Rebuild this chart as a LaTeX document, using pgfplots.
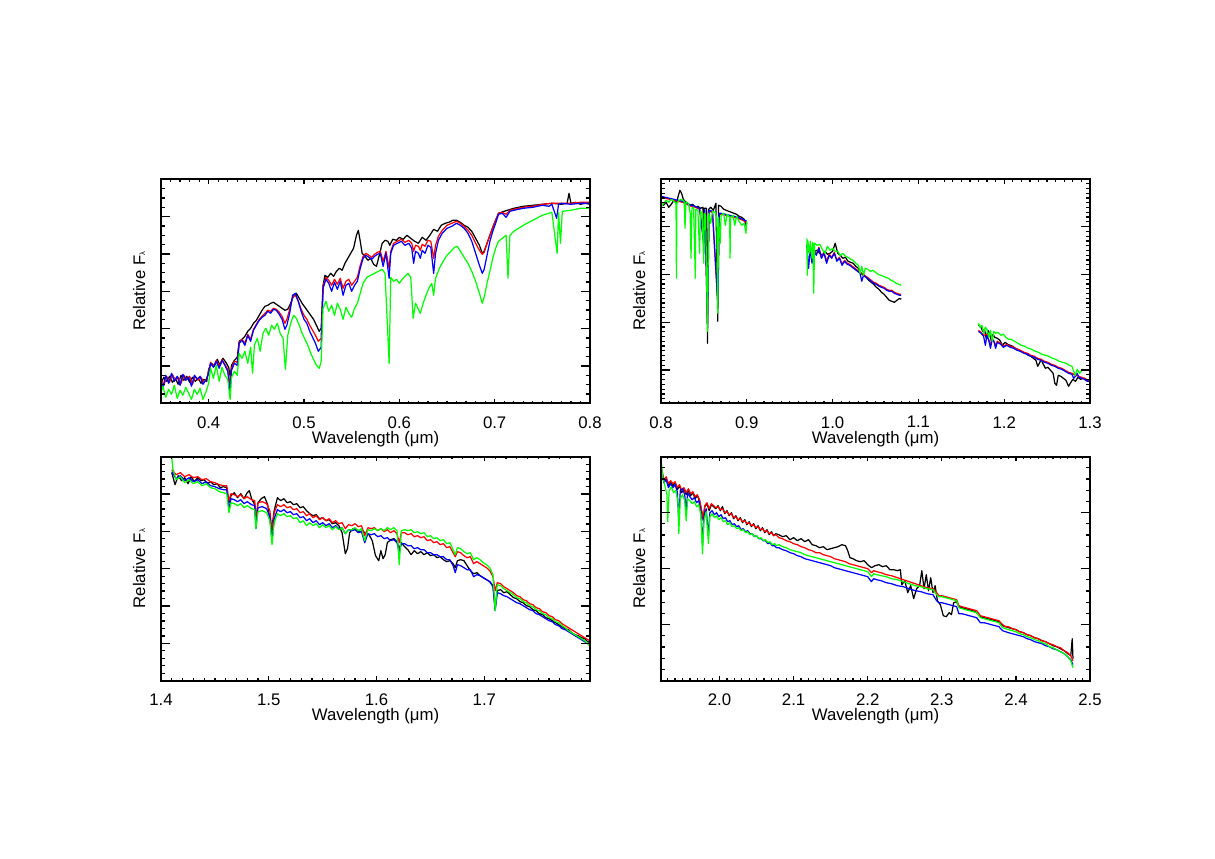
\documentclass[border=0pt]{standalone}
\usepackage{fontspec}
\setmainfont{Liberation Sans}
\usepackage{pgfplots}
\pgfplotsset{compat=1.18}

% y values: pixels above the bottom of each box (arbitrary flux units)
\pgfplotsset{
  spec/.style={
    scale only axis, width=278.85pt, height=145.6pt, anchor=south west,
    ymin=0, ymax=224, axis on top,
    axis line style={line width=1.1pt},
    tick align=inside, tick pos=both,
    every tick/.append style={black, line width=0.8pt},
    xtick style={/pgfplots/major tick length=2.8pt, /pgfplots/minor tick length=1.6pt},
    ytick style={/pgfplots/major tick length=5.6pt, /pgfplots/minor tick length=2.9pt},
    yticklabels={},
    xticklabel style={font=\fontsize{10.9}{12}\selectfont, anchor=north, inner sep=0pt, yshift=-8.3pt,
      /pgf/number format/.cd, fixed, fixed zerofill, precision=1, assume math mode=true},
    xlabel={Wavelength (μm)},
    ylabel={Relative F{\fontsize{5}{6}\selectfont λ}},
    label style={font=\fontsize{10.9}{12}\selectfont},
    xlabel style={at={(axis description cs:0.5,-0.178)}, anchor=base},
    ylabel style={at={(axis description cs:-0.0373,0.5)}, anchor=base},
    unbounded coords=jump,
    every axis plot/.append style={line width=0.8pt, line join=round},
  },
}

\begin{document}
\begin{tikzpicture}
\useasboundingbox (0,0) rectangle (789.75pt,558.35pt);

% ---------------- top left: 0.35-0.8 um
\begin{axis}[spec, at={(104.65pt,296.2pt)},
  xmin=0.35, xmax=0.8, xtick={0.4,0.5,0.6,0.7,0.8}, minor xtick={0.35,0.36,...,0.8},
  ytick={37.333,74.667,112,149.333,186.667}, minor ytick={9.333,18.667,...,224}]
\addplot[black] coordinates {(0.350,20) (0.353,26) (0.356,22) (0.359,27) (0.362,21) (0.365,25) (0.368,19) (0.371,28) (0.374,23) (0.377,27) (0.380,21) (0.383,26) (0.386,22) (0.389,25) (0.392,20) (0.395,24) (0.398,22) (0.400,34) (0.403,40) (0.406,37) (0.409,44) (0.412,38) (0.415,45) (0.418,41) (0.421,36) (0.4225,27) (0.424,38) (0.427,43) (0.430,46) (0.432,62) (0.435,64) (0.438,67) (0.441,72) (0.444,75) (0.447,80) (0.450,83) (0.453,88) (0.456,93) (0.459,97) (0.462,98) (0.465,100) (0.468,101) (0.471,99) (0.474,97) (0.477,95) (0.480,93) (0.483,94) (0.486,100) (0.489,107) (0.492,110) (0.495,105) (0.498,100) (0.501,96) (0.504,92) (0.507,88) (0.510,84) (0.513,78) (0.516,72) (0.518,75) (0.520,118) (0.522,128) (0.525,126) (0.528,130) (0.531,127) (0.534,132) (0.537,135) (0.540,133) (0.543,140) (0.546,145) (0.549,150) (0.552,155) (0.555,168) (0.557,173) (0.559,162) (0.561,150) (0.564,147) (0.567,143) (0.570,145) (0.573,139) (0.576,137) (0.579,148) (0.582,160) (0.585,163) (0.588,162) (0.590,158) (0.593,164) (0.597,163) (0.600,166) (0.604,164) (0.608,168) (0.612,165) (0.616,162) (0.620,160) (0.624,166) (0.628,163) (0.632,168) (0.636,174) (0.640,172) (0.644,178) (0.648,180) (0.652,181) (0.656,183) (0.660,183) (0.664,181) (0.668,178) (0.672,176) (0.676,172) (0.680,165) (0.684,158) (0.687,150) (0.689,152) (0.692,160) (0.695,168) (0.698,176) (0.701,183) (0.704,190) (0.710,192) (0.720,195) (0.730,197) (0.740,198) (0.750,199) (0.760,200) (0.770,199) (0.776,200) (0.778,210) (0.780,200) (0.785,201) (0.790,199) (0.795,200) (0.800,199)};
\addplot[red] coordinates {(0.350,24) (0.353,18) (0.356,27) (0.359,21) (0.362,29) (0.365,23) (0.368,26) (0.371,20) (0.374,28) (0.377,24) (0.380,27) (0.383,19) (0.386,27) (0.389,23) (0.392,26) (0.395,21) (0.398,24) (0.400,32) (0.402,41) (0.405,37) (0.408,43) (0.411,37) (0.414,44) (0.417,39) (0.420,34) (0.4225,18) (0.424,35) (0.427,42) (0.430,41) (0.432,61) (0.435,64) (0.438,60) (0.441,69) (0.444,64) (0.447,74) (0.450,79) (0.453,84) (0.456,87) (0.459,90) (0.462,93) (0.465,92) (0.468,95) (0.471,94) (0.474,91) (0.477,87) (0.480,80) (0.482,84) (0.485,94) (0.488,106) (0.491,108) (0.494,102) (0.497,94) (0.500,88) (0.503,84) (0.506,78) (0.509,73) (0.512,68) (0.515,62) (0.518,65) (0.520,117) (0.523,126) (0.526,123) (0.529,118) (0.532,124) (0.535,119) (0.538,125) (0.541,115) (0.544,122) (0.547,124) (0.550,118) (0.553,122) (0.556,126) (0.559,138) (0.562,147) (0.565,150) (0.568,148) (0.571,146) (0.574,149) (0.577,151) (0.580,152) (0.583,142) (0.586,152) (0.5893,135) (0.591,152) (0.594,160) (0.598,162) (0.602,164) (0.606,161) (0.610,163) (0.613,160) (0.615,152) (0.617,158) (0.620,157) (0.622,153) (0.624,159) (0.627,157) (0.630,163) (0.633,162) (0.636,145) (0.638,158) (0.641,167) (0.645,173) (0.650,178) (0.655,180) (0.660,182) (0.664,180) (0.668,177) (0.672,173) (0.676,168) (0.680,160) (0.684,153) (0.687,149) (0.689,151) (0.692,160) (0.695,168) (0.698,176) (0.701,183) (0.704,190) (0.708,191) (0.712,189) (0.716,193) (0.720,194) (0.730,196) (0.740,197) (0.750,199) (0.760,200) (0.770,200) (0.780,200) (0.790,201) (0.800,201)};
\addplot[blue] coordinates {(0.350,22) (0.352,16) (0.355,28) (0.358,20) (0.361,30) (0.364,22) (0.367,27) (0.370,18) (0.373,29) (0.376,23) (0.379,26) (0.382,17) (0.385,28) (0.388,24) (0.391,27) (0.394,19) (0.397,23) (0.400,30) (0.402,40) (0.405,36) (0.408,42) (0.411,35) (0.414,43) (0.417,38) (0.420,32) (0.4225,12) (0.424,33) (0.427,40) (0.430,38) (0.432,60) (0.435,63) (0.438,58) (0.441,68) (0.444,62) (0.447,73) (0.450,78) (0.453,83) (0.456,86) (0.459,88) (0.462,92) (0.465,90) (0.468,94) (0.471,93) (0.474,89) (0.477,84) (0.480,74) (0.482,78) (0.485,90) (0.488,108) (0.491,110) (0.494,102) (0.497,92) (0.500,84) (0.503,80) (0.506,72) (0.509,66) (0.512,60) (0.515,52) (0.518,56) (0.520,115) (0.523,124) (0.526,120) (0.529,112) (0.532,121) (0.535,114) (0.538,122) (0.541,108) (0.544,118) (0.547,120) (0.550,112) (0.553,118) (0.556,122) (0.559,135) (0.562,145) (0.565,148) (0.568,146) (0.571,144) (0.574,147) (0.577,149) (0.580,150) (0.583,137) (0.586,150) (0.5893,125) (0.591,150) (0.594,158) (0.598,160) (0.602,162) (0.606,158) (0.610,160) (0.613,155) (0.615,140) (0.617,152) (0.620,150) (0.622,145) (0.624,153) (0.627,150) (0.630,158) (0.633,156) (0.636,130) (0.638,150) (0.641,163) (0.645,170) (0.650,175) (0.655,177) (0.660,180) (0.664,178) (0.668,175) (0.672,170) (0.676,162) (0.680,150) (0.684,138) (0.687,130) (0.689,134) (0.692,148) (0.695,162) (0.698,172) (0.701,180) (0.704,189) (0.708,190) (0.712,186) (0.716,192) (0.720,193) (0.730,195) (0.740,196) (0.750,198) (0.757,197) (0.760,199) (0.765,185) (0.767,199) (0.770,200) (0.780,199) (0.790,200) (0.800,200)};
\addplot[green] coordinates {(0.350,10) (0.352,17) (0.355,6) (0.358,14) (0.361,9) (0.364,18) (0.367,5) (0.370,13) (0.373,8) (0.376,16) (0.379,10) (0.382,4) (0.385,14) (0.388,9) (0.391,15) (0.394,4) (0.397,11) (0.400,20) (0.402,35) (0.405,25) (0.408,38) (0.411,22) (0.414,36) (0.417,28) (0.420,24) (0.4225,4) (0.424,26) (0.427,32) (0.430,28) (0.432,50) (0.435,45) (0.438,52) (0.441,40) (0.444,56) (0.446,30) (0.448,58) (0.451,65) (0.454,52) (0.457,70) (0.460,75) (0.463,68) (0.466,78) (0.469,74) (0.472,80) (0.475,70) (0.478,65) (0.4805,34) (0.483,68) (0.486,80) (0.489,88) (0.492,85) (0.495,78) (0.498,70) (0.501,64) (0.504,58) (0.507,50) (0.510,44) (0.513,38) (0.516,35) (0.518,42) (0.520,95) (0.523,102) (0.526,92) (0.529,98) (0.532,88) (0.535,100) (0.538,94) (0.541,84) (0.544,96) (0.547,90) (0.550,86) (0.553,95) (0.556,100) (0.559,110) (0.562,120) (0.566,126) (0.570,128) (0.574,130) (0.578,132) (0.582,134) (0.585,130) (0.5893,40) (0.591,126) (0.594,122) (0.597,124) (0.600,120) (0.603,124) (0.606,127) (0.609,130) (0.612,126) (0.6145,85) (0.617,100) (0.620,94) (0.622,90) (0.625,100) (0.628,108) (0.631,115) (0.634,120) (0.636,108) (0.638,125) (0.642,135) (0.646,142) (0.650,148) (0.654,152) (0.658,156) (0.661,157) (0.664,152) (0.668,146) (0.672,140) (0.676,132) (0.680,122) (0.684,110) (0.687,100) (0.689,106) (0.692,120) (0.695,132) (0.698,145) (0.701,155) (0.704,162) (0.708,165) (0.712,168) (0.714,125) (0.716,168) (0.720,172) (0.730,178) (0.740,183) (0.750,188) (0.760,191) (0.7655,150) (0.767,191) (0.769,160) (0.771,192) (0.780,193) (0.790,195) (0.800,195)};
\end{axis}

% ---------------- top right: 0.8-1.3 um
\begin{axis}[spec, at={(429.65pt,296.2pt)},
  xmin=0.8, xmax=1.3, xtick={0.8,0.9,1.0,1.1,1.2,1.3}, minor xtick={0.81,0.82,...,1.3},
  ytick={33.3,81.1,128.9,176.7}, minor ytick={4.62,9.4,...,224}]
\addplot[black] coordinates {(0.800,200) (0.803,198) (0.806,201) (0.809,196) (0.812,199) (0.815,203) (0.818,200) (0.820,207) (0.822,213) (0.824,210) (0.826,204) (0.828,202) (0.831,200) (0.834,198) (0.837,199) (0.840,196) (0.843,197) (0.846,195) (0.849,196) (0.8498,150) (0.8505,195) (0.853,195) (0.8542,60) (0.8555,194) (0.858,196) (0.861,193) (0.864,200) (0.8662,82) (0.867,198) (0.870,197) (0.873,194) (0.876,193) (0.879,192) (0.882,191) (0.885,190) (0.888,189) (0.891,187) (0.894,186) (0.897,184) (0.899,178) (0.900,180) (0.935,nan)
 (0.970,158) (0.973,150) (0.976,156) (0.979,152) (0.982,153) (0.985,150) (0.988,148) (0.991,152) (0.994,149) (0.997,150) (1.000,152) (1.003,160) (1.006,150) (1.009,148) (1.012,145) (1.015,146) (1.018,142) (1.021,141) (1.024,140) (1.027,137) (1.030,135) (1.033,130) (1.036,128) (1.039,126) (1.042,123) (1.045,121) (1.048,119) (1.051,116) (1.054,114) (1.057,111) (1.060,109) (1.063,106) (1.066,103) (1.069,102) (1.072,101) (1.075,103) (1.078,105) (1.080,104) (1.12,nan)
 (1.170,78) (1.173,76) (1.175,72) (1.177,74) (1.179,65) (1.181,73) (1.183,70) (1.185,62) (1.187,69) (1.189,66) (1.192,65) (1.195,63) (1.198,58) (1.201,61) (1.204,59) (1.207,58) (1.210,57) (1.213,55) (1.216,54) (1.219,52) (1.222,51) (1.225,50) (1.228,48) (1.231,47) (1.234,45) (1.237,43) (1.239,37) (1.241,40) (1.243,44) (1.245,40) (1.248,35) (1.251,36) (1.254,33) (1.257,30) (1.259,20) (1.261,18) (1.263,28) (1.266,27) (1.269,25) (1.272,23) (1.275,17) (1.277,20) (1.280,24) (1.283,22) (1.286,26) (1.289,24) (1.292,25) (1.295,23) (1.298,22) (1.300,22)};
\addplot[red] coordinates {(0.800,206) (0.805,205) (0.810,204) (0.815,203) (0.820,202) (0.825,201) (0.830,199) (0.835,197) (0.840,196) (0.845,194) (0.8498,160) (0.851,193) (0.8542,80) (0.856,192) (0.860,191) (0.8662,100) (0.868,189) (0.870,189) (0.875,188) (0.880,187) (0.885,186) (0.890,185) (0.895,183) (0.900,181) (0.935,nan)
 (0.970,159) (0.974,156) (0.978,153) (0.981,149) (0.984,156) (0.987,146) (0.990,151) (0.993,142) (0.996,149) (0.999,146) (1.002,151) (1.005,143) (1.008,146) (1.011,139) (1.014,143) (1.017,140) (1.020,139) (1.023,137) (1.026,135) (1.029,133) (1.032,131) (1.036,129) (1.039,127) (1.042,125) (1.045,123) (1.048,121) (1.051,120) (1.054,118) (1.057,117) (1.060,116) (1.063,114) (1.066,113) (1.069,113) (1.072,111) (1.075,110) (1.078,109) (1.080,109) (1.12,nan)
 (1.170,73) (1.173,71) (1.176,68) (1.180,69) (1.184,58) (1.186,65) (1.190,58) (1.192,62) (1.196,60) (1.199,57) (1.203,59) (1.207,57) (1.211,56) (1.215,54) (1.219,53) (1.223,51) (1.227,50) (1.231,48) (1.235,47) (1.239,45) (1.243,44) (1.247,42) (1.251,41) (1.255,39) (1.259,38) (1.263,36) (1.267,35) (1.271,33) (1.275,31) (1.279,30) (1.283,28) (1.287,27) (1.290,26) (1.294,25) (1.297,23) (1.300,23)};
\addplot[blue] coordinates {(0.800,207) (0.805,206) (0.810,205) (0.815,204) (0.820,203) (0.825,202) (0.830,200) (0.835,198) (0.840,197) (0.845,195) (0.8498,160) (0.851,194) (0.8542,80) (0.856,193) (0.860,192) (0.8662,100) (0.868,190) (0.870,190) (0.875,189) (0.880,188) (0.885,187) (0.890,186) (0.895,184) (0.900,182) (0.935,nan)
 (0.970,158) (0.972,135) (0.974,155) (0.976,140) (0.978,152) (0.981,148) (0.984,155) (0.987,145) (0.990,150) (0.993,140) (0.996,148) (0.999,145) (1.002,150) (1.005,142) (1.008,145) (1.011,138) (1.014,142) (1.017,139) (1.020,138) (1.023,136) (1.026,134) (1.029,132) (1.032,130) (1.034,122) (1.036,128) (1.039,126) (1.042,124) (1.045,122) (1.048,120) (1.051,119) (1.054,117) (1.057,116) (1.060,115) (1.063,113) (1.066,112) (1.069,112) (1.072,110) (1.075,109) (1.078,108) (1.080,108) (1.12,nan)
 (1.170,72) (1.173,70) (1.176,67) (1.178,58) (1.180,68) (1.182,63) (1.184,55) (1.186,64) (1.188,62) (1.190,55) (1.192,61) (1.196,59) (1.199,56) (1.203,58) (1.207,56) (1.211,55) (1.215,53) (1.219,52) (1.223,50) (1.227,49) (1.231,47) (1.235,46) (1.239,44) (1.243,43) (1.247,41) (1.251,40) (1.255,38) (1.259,37) (1.263,35) (1.267,34) (1.271,32) (1.275,30) (1.279,29) (1.281,25) (1.283,27) (1.285,30) (1.287,26) (1.290,25) (1.294,24) (1.297,22) (1.300,22)};
\addplot[green] coordinates {(0.800,196) (0.803,200) (0.806,203) (0.809,201) (0.812,204) (0.815,202) (0.8175,200) (0.818,125) (0.8185,200) (0.821,203) (0.824,204) (0.827,202) (0.828,175) (0.829,201) (0.832,200) (0.834,190) (0.835,145) (0.836,195) (0.838,196) (0.840,125) (0.8405,194) (0.843,193) (0.845,150) (0.846,192) (0.848,190) (0.8498,140) (0.8505,190) (0.852,188) (0.8542,72) (0.8555,190) (0.858,180) (0.860,192) (0.863,191) (0.865,185) (0.8662,90) (0.867,186) (0.869,160) (0.870,188) (0.873,190) (0.875,178) (0.877,189) (0.880,186) (0.8805,145) (0.881,186) (0.884,188) (0.886,178) (0.888,187) (0.891,182) (0.894,178) (0.897,180) (0.899,170) (0.900,182) (0.935,nan)
 (0.970,165) (0.9705,128) (0.971,163) (0.973,150) (0.974,162) (0.976,145) (0.977,161) (0.978,110) (0.979,160) (0.982,158) (0.985,159) (0.988,154) (0.991,150) (0.994,157) (0.997,153) (1.000,155) (1.003,152) (1.006,152) (1.009,148) (1.012,150) (1.015,147) (1.018,146) (1.021,144) (1.024,143) (1.027,140) (1.030,138) (1.032,130) (1.034,137) (1.036,128) (1.038,135) (1.041,134) (1.044,132) (1.047,133) (1.050,131) (1.053,129) (1.056,128) (1.059,127) (1.062,126) (1.065,125) (1.068,123) (1.071,122) (1.074,120) (1.077,119) (1.080,118) (1.12,nan)
 (1.170,80) (1.172,76) (1.174,78) (1.176,70) (1.178,76) (1.180,74) (1.182,66) (1.184,73) (1.186,62) (1.188,72) (1.190,70) (1.193,71) (1.196,68) (1.199,69) (1.202,66) (1.205,64) (1.208,64) (1.212,62) (1.216,60) (1.220,58) (1.224,57) (1.228,55) (1.232,54) (1.236,52) (1.240,51) (1.244,49) (1.248,48) (1.252,47) (1.256,45) (1.260,44) (1.264,42) (1.268,41) (1.272,40) (1.276,38) (1.279,37) (1.281,32) (1.283,28) (1.285,34) (1.288,30) (1.291,34) (1.294,33) (1.297,33) (1.300,33)};
\end{axis}

% ---------------- bottom left: 1.4-1.8 um
\begin{axis}[spec, at={(104.65pt,115.9pt)},
  xmin=1.4, xmax=1.798, xtick={1.4,1.5,1.6,1.7}, minor xtick={1.41,1.42,...,1.795},
  ytick={37.333,74.667,112,149.333,186.667}, minor ytick={7.4667,14.933,...,224}]
\addplot[black] coordinates {(1.410,208) (1.413,196) (1.416,205) (1.419,200) (1.422,203) (1.425,197) (1.428,204) (1.431,199) (1.434,203) (1.437,200) (1.440,201) (1.443,197) (1.446,199) (1.449,196) (1.452,197) (1.455,193) (1.458,194) (1.461,193) (1.463,178) (1.465,185) (1.468,188) (1.471,183) (1.474,187) (1.477,182) (1.480,188) (1.482,190) (1.484,182) (1.487,176) (1.488,160) (1.490,178) (1.493,182) (1.496,184) (1.499,176) (1.501,160) (1.503,154) (1.505,170) (1.508,183) (1.511,180) (1.514,182) (1.517,178) (1.520,179) (1.523,176) (1.526,177) (1.529,173) (1.532,174) (1.535,170) (1.538,167) (1.541,165) (1.544,166) (1.547,162) (1.550,163) (1.553,160) (1.556,161) (1.559,157) (1.562,158) (1.565,155) (1.568,148) (1.571,127) (1.573,132) (1.575,148) (1.578,152) (1.581,151) (1.584,149) (1.587,150) (1.590,147) (1.593,146) (1.596,140) (1.599,125) (1.602,120) (1.604,130) (1.606,122) (1.608,126) (1.610,138) (1.613,141) (1.616,142) (1.619,139) (1.621,132) (1.623,138) (1.626,134) (1.629,131) (1.632,126) (1.635,130) (1.638,127) (1.641,129) (1.644,126) (1.647,128) (1.650,125) (1.653,126) (1.656,123) (1.659,124) (1.662,121) (1.665,119) (1.668,120) (1.671,117) (1.673,113) (1.675,120) (1.678,121) (1.681,120) (1.684,115) (1.687,110) (1.690,107) (1.693,108) (1.696,105) (1.699,103) (1.702,101) (1.705,99) (1.708,95) (1.710,72) (1.712,90) (1.715,91) (1.718,88) (1.721,89) (1.724,86) (1.727,83) (1.730,82) (1.733,79) (1.736,78) (1.739,75) (1.742,74) (1.745,71) (1.748,70) (1.751,67) (1.754,66) (1.757,63) (1.760,62) (1.763,60) (1.766,58) (1.769,56) (1.772,54) (1.775,52) (1.778,51) (1.781,48) (1.784,46) (1.787,45) (1.790,43) (1.793,42) (1.796,39) (1.798,38)};
\addplot[red] coordinates {(1.410,211) (1.414,206) (1.418,208) (1.422,204) (1.426,206) (1.430,203) (1.434,204) (1.438,201) (1.442,202) (1.446,199) (1.450,198) (1.454,196) (1.458,195) (1.461,195) (1.463,180) (1.465,187) (1.468,186) (1.471,184) (1.474,186) (1.477,182) (1.480,184) (1.484,181) (1.487,180) (1.488,160) (1.490,178) (1.494,179) (1.498,177) (1.501,170) (1.503,150) (1.505,168) (1.508,176) (1.511,174) (1.514,176) (1.517,173) (1.520,174) (1.523,171) (1.526,172) (1.529,168) (1.532,169) (1.535,165) (1.538,167) (1.541,163) (1.544,165) (1.547,161) (1.550,163) (1.553,160) (1.556,162) (1.559,158) (1.562,160) (1.565,157) (1.568,158) (1.571,152) (1.574,156) (1.577,155) (1.580,157) (1.583,154) (1.586,155) (1.589,145) (1.592,153) (1.595,152) (1.598,153) (1.601,150) (1.604,152) (1.607,149) (1.610,151) (1.613,148) (1.616,150) (1.619,147) (1.621,138) (1.623,148) (1.626,148) (1.629,146) (1.632,147) (1.635,144) (1.638,145) (1.641,143) (1.644,144) (1.647,140) (1.650,141) (1.653,138) (1.656,139) (1.659,136) (1.662,137) (1.665,133) (1.668,134) (1.671,128) (1.673,124) (1.675,129) (1.678,128) (1.681,125) (1.684,123) (1.687,124) (1.690,117) (1.693,119) (1.696,117) (1.699,115) (1.702,113) (1.705,110) (1.708,104) (1.710,90) (1.712,98) (1.715,97) (1.718,94) (1.721,92) (1.724,90) (1.727,88) (1.730,85) (1.733,84) (1.736,81) (1.739,80) (1.742,77) (1.745,76) (1.748,73) (1.751,72) (1.754,69) (1.757,68) (1.760,65) (1.763,64) (1.766,61) (1.769,60) (1.772,57) (1.775,55) (1.778,53) (1.781,51) (1.784,49) (1.787,47) (1.790,45) (1.793,43) (1.796,41) (1.798,40)};
\addplot[blue] coordinates {(1.410,209) (1.414,202) (1.418,205) (1.422,200) (1.426,203) (1.430,199) (1.434,201) (1.438,197) (1.442,199) (1.446,195) (1.450,194) (1.454,192) (1.458,191) (1.461,191) (1.463,172) (1.465,182) (1.468,181) (1.471,179) (1.474,181) (1.477,177) (1.480,179) (1.484,176) (1.487,175) (1.488,152) (1.490,173) (1.494,174) (1.498,172) (1.501,164) (1.503,140) (1.505,162) (1.508,171) (1.511,169) (1.514,171) (1.517,168) (1.520,169) (1.523,166) (1.526,167) (1.529,163) (1.532,164) (1.535,160) (1.538,162) (1.541,158) (1.544,160) (1.547,156) (1.550,158) (1.553,155) (1.556,157) (1.559,153) (1.562,155) (1.565,152) (1.568,153) (1.571,147) (1.574,151) (1.577,150) (1.580,151) (1.583,148) (1.586,149) (1.589,138) (1.592,147) (1.595,146) (1.598,147) (1.601,144) (1.604,145) (1.607,142) (1.610,143) (1.613,140) (1.616,141) (1.619,138) (1.621,128) (1.623,137) (1.626,137) (1.629,135) (1.632,135) (1.635,132) (1.638,133) (1.641,131) (1.644,131) (1.647,128) (1.650,128) (1.653,126) (1.656,126) (1.659,124) (1.662,124) (1.665,121) (1.668,121) (1.671,115) (1.673,108) (1.675,116) (1.678,115) (1.681,113) (1.684,111) (1.687,111) (1.690,104) (1.693,106) (1.696,105) (1.699,103) (1.702,101) (1.705,99) (1.708,94) (1.710,70) (1.712,88) (1.715,87) (1.718,85) (1.721,84) (1.724,82) (1.727,80) (1.730,78) (1.733,77) (1.736,75) (1.739,73) (1.742,71) (1.745,70) (1.748,67) (1.751,66) (1.754,64) (1.757,62) (1.760,60) (1.763,59) (1.766,56) (1.769,55) (1.772,52) (1.775,51) (1.778,49) (1.781,47) (1.784,45) (1.787,43) (1.790,41) (1.793,39) (1.796,37) (1.798,35)};
\addplot[green] coordinates {(1.410,223) (1.411,212) (1.414,201) (1.418,204) (1.422,198) (1.426,201) (1.430,197) (1.434,199) (1.438,195) (1.442,197) (1.446,193) (1.450,192) (1.454,189) (1.458,188) (1.461,187) (1.463,168) (1.465,178) (1.468,177) (1.471,175) (1.474,177) (1.477,173) (1.480,175) (1.484,172) (1.487,171) (1.488,152) (1.490,169) (1.494,170) (1.498,168) (1.501,160) (1.503,136) (1.505,158) (1.508,167) (1.511,165) (1.514,167) (1.517,164) (1.520,165) (1.523,162) (1.526,163) (1.529,158) (1.532,160) (1.535,155) (1.538,158) (1.541,155) (1.544,157) (1.547,153) (1.550,156) (1.553,153) (1.556,155) (1.559,151) (1.562,154) (1.565,151) (1.568,153) (1.571,147) (1.574,151) (1.577,151) (1.580,153) (1.583,150) (1.586,152) (1.589,140) (1.592,151) (1.595,150) (1.598,152) (1.601,150) (1.604,152) (1.607,150) (1.610,153) (1.613,151) (1.616,153) (1.619,150) (1.621,116) (1.623,150) (1.626,151) (1.629,150) (1.632,151) (1.635,148) (1.638,149) (1.641,147) (1.644,148) (1.647,144) (1.650,145) (1.653,142) (1.656,143) (1.659,140) (1.662,141) (1.665,137) (1.668,138) (1.671,131) (1.673,126) (1.675,133) (1.678,132) (1.681,129) (1.684,127) (1.687,128) (1.690,121) (1.693,123) (1.696,121) (1.699,118) (1.702,116) (1.705,113) (1.708,106) (1.710,70) (1.712,96) (1.715,95) (1.718,92) (1.721,90) (1.724,88) (1.727,86) (1.730,83) (1.733,82) (1.736,79) (1.739,78) (1.742,75) (1.745,74) (1.748,71) (1.751,70) (1.754,67) (1.757,66) (1.760,63) (1.763,62) (1.766,59) (1.769,58) (1.772,55) (1.775,53) (1.778,50) (1.781,48) (1.784,46) (1.787,44) (1.790,42) (1.793,40) (1.796,37) (1.798,34)};
\end{axis}

% ---------------- bottom right: 1.92-2.5 um
\begin{axis}[spec, at={(429.65pt,115.9pt)},
  xmin=1.921, xmax=2.5, xtick={2.0,2.1,2.2,2.3,2.4,2.5}, minor xtick={1.93,1.94,...,2.495},
  ytick={56,112,168}, minor ytick={11.2,22.4,...,224}]
\addplot[black] coordinates {(1.922,208) (1.925,198) (1.928,202) (1.931,195) (1.934,199) (1.937,195) (1.940,198) (1.943,191) (1.946,195) (1.949,188) (1.952,192) (1.955,186) (1.958,190) (1.961,185) (1.964,188) (1.967,182) (1.970,185) (1.973,180) (1.976,168) (1.978,160) (1.980,174) (1.983,177) (1.986,170) (1.989,176) (1.992,174) (1.995,172) (1.998,175) (2.001,170) (2.004,174) (2.007,167) (2.010,170) (2.013,165) (2.016,168) (2.019,162) (2.022,165) (2.025,160) (2.028,163) (2.031,158) (2.034,161) (2.037,156) (2.040,159) (2.043,154) (2.046,157) (2.049,152) (2.052,155) (2.055,150) (2.058,153) (2.061,148) (2.064,151) (2.067,146) (2.070,149) (2.073,145) (2.076,147) (2.080,146) (2.085,144) (2.090,145) (2.095,141) (2.100,143) (2.105,140) (2.110,142) (2.115,139) (2.120,141) (2.125,136) (2.130,135) (2.135,133) (2.140,134) (2.145,131) (2.150,132) (2.155,133) (2.160,134) (2.165,136) (2.170,135) (2.173,130) (2.176,123) (2.180,122) (2.185,120) (2.190,119) (2.195,120) (2.200,116) (2.205,113) (2.210,115) (2.215,116) (2.220,114) (2.225,115) (2.230,111) (2.235,111) (2.240,110) (2.244,111) (2.246,96) (2.250,100) (2.254,88) (2.258,95) (2.262,82) (2.266,92) (2.270,95) (2.273,110) (2.276,92) (2.279,106) (2.282,90) (2.285,103) (2.288,88) (2.291,95) (2.294,80) (2.298,76) (2.302,65) (2.306,64) (2.310,68) (2.313,66) (2.316,78) (2.320,79) (2.323,74) (2.327,73) (2.332,72) (2.337,71) (2.342,70) (2.347,68) (2.352,64) (2.357,63) (2.362,62) (2.367,61) (2.372,60) (2.377,59) (2.382,55) (2.386,54) (2.390,53) (2.395,52) (2.400,51) (2.405,49) (2.410,48) (2.415,46) (2.420,45) (2.425,43) (2.430,42) (2.435,40) (2.440,39) (2.445,37) (2.450,35) (2.455,34) (2.460,32) (2.465,30) (2.470,27) (2.474,25) (2.476,42) (2.477,22)};
\addplot[red] coordinates {(1.922,212) (1.925,200) (1.928,204) (1.931,197) (1.934,200) (1.937,197) (1.940,199) (1.943,193) (1.946,196) (1.949,190) (1.952,193) (1.955,188) (1.958,192) (1.961,187) (1.964,189) (1.967,184) (1.970,186) (1.973,181) (1.976,170) (1.978,162) (1.980,175) (1.983,178) (1.986,172) (1.989,177) (1.992,175) (1.995,173) (1.998,174) (2.001,171) (2.004,172) (2.007,168) (2.010,169) (2.013,166) (2.016,167) (2.019,163) (2.022,164) (2.025,161) (2.028,162) (2.031,159) (2.034,160) (2.037,157) (2.040,158) (2.043,155) (2.046,156) (2.049,153) (2.052,154) (2.055,151) (2.058,152) (2.061,149) (2.064,150) (2.067,147) (2.070,148) (2.073,145) (2.076,146) (2.080,143) (2.085,142) (2.090,140) (2.095,139) (2.100,137) (2.105,136) (2.110,134) (2.115,133) (2.120,131) (2.125,130) (2.130,128) (2.135,128) (2.140,126) (2.145,125) (2.150,124) (2.155,122) (2.160,121) (2.165,120) (2.170,119) (2.175,117) (2.180,116) (2.185,115) (2.190,114) (2.195,113) (2.200,112) (2.205,108) (2.208,110) (2.212,109) (2.218,108) (2.225,106) (2.232,105) (2.240,103) (2.248,101) (2.256,99) (2.264,97) (2.272,95) (2.280,93) (2.288,92) (2.293,88) (2.296,85) (2.300,85) (2.305,84) (2.310,83) (2.315,82) (2.320,81) (2.323,75) (2.327,74) (2.332,73) (2.337,72) (2.342,71) (2.347,70) (2.352,65) (2.357,64) (2.362,63) (2.367,62) (2.372,61) (2.377,60) (2.382,56) (2.386,54) (2.390,54) (2.395,52) (2.400,51) (2.405,49) (2.410,48) (2.415,46) (2.420,45) (2.425,43) (2.430,42) (2.435,40) (2.440,39) (2.445,37) (2.450,36) (2.455,34) (2.460,33) (2.465,30) (2.470,28) (2.474,25) (2.477,20)};
\addplot[blue] coordinates {(1.922,210) (1.925,198) (1.928,201) (1.931,193) (1.934,197) (1.937,193) (1.940,196) (1.943,189) (1.945,160) (1.947,190) (1.950,192) (1.953,186) (1.955,170) (1.957,188) (1.960,184) (1.963,181) (1.966,183) (1.969,178) (1.972,180) (1.975,168) (1.977,135) (1.979,165) (1.982,172) (1.985,145) (1.987,168) (1.990,170) (1.993,166) (1.996,168) (1.999,164) (2.002,166) (2.005,162) (2.008,163) (2.011,159) (2.014,160) (2.017,156) (2.020,157) (2.023,154) (2.026,155) (2.029,151) (2.032,152) (2.035,149) (2.038,150) (2.041,147) (2.044,147) (2.047,144) (2.050,145) (2.053,142) (2.056,142) (2.059,140) (2.062,140) (2.065,137) (2.068,138) (2.071,135) (2.074,135) (2.077,133) (2.080,133) (2.085,131) (2.090,130) (2.095,128) (2.100,127) (2.105,125) (2.110,124) (2.115,122) (2.120,121) (2.125,120) (2.130,119) (2.135,118) (2.140,117) (2.145,116) (2.150,115) (2.155,113) (2.160,112) (2.165,111) (2.170,110) (2.175,109) (2.180,108) (2.185,107) (2.190,106) (2.195,105) (2.200,104) (2.205,99) (2.208,102) (2.212,101) (2.218,100) (2.225,98) (2.232,97) (2.240,95) (2.248,94) (2.256,92) (2.264,90) (2.272,89) (2.280,87) (2.288,86) (2.293,80) (2.296,78) (2.300,78) (2.305,77) (2.310,76) (2.315,75) (2.320,74) (2.323,67) (2.327,67) (2.332,66) (2.337,65) (2.342,64) (2.347,63) (2.352,58) (2.357,58) (2.362,57) (2.367,56) (2.372,55) (2.377,54) (2.382,50) (2.386,49) (2.390,48) (2.395,47) (2.400,46) (2.405,45) (2.410,44) (2.415,42) (2.420,41) (2.425,39) (2.430,38) (2.435,37) (2.440,35) (2.445,34) (2.450,32) (2.455,31) (2.460,29) (2.465,27) (2.470,24) (2.474,21) (2.477,16)};
\addplot[green] coordinates {(1.921,223) (1.923,205) (1.926,196) (1.929,186) (1.930,159) (1.932,190) (1.935,194) (1.938,188) (1.941,190) (1.944,178) (1.945,147) (1.947,182) (1.950,186) (1.953,180) (1.955,160) (1.957,182) (1.960,180) (1.963,177) (1.966,179) (1.969,174) (1.972,176) (1.975,165) (1.977,127) (1.979,160) (1.982,169) (1.985,137) (1.987,164) (1.990,167) (1.993,163) (1.996,165) (1.999,161) (2.002,163) (2.005,159) (2.008,160) (2.011,156) (2.014,158) (2.017,154) (2.020,155) (2.023,152) (2.026,153) (2.029,150) (2.032,151) (2.035,148) (2.038,149) (2.041,146) (2.044,147) (2.047,144) (2.050,145) (2.053,142) (2.056,143) (2.059,140) (2.062,141) (2.065,138) (2.068,139) (2.071,136) (2.074,137) (2.077,135) (2.080,136) (2.085,134) (2.090,133) (2.095,131) (2.100,130) (2.105,129) (2.110,128) (2.115,126) (2.120,125) (2.125,124) (2.130,123) (2.135,122) (2.140,121) (2.145,120) (2.150,119) (2.155,118) (2.160,117) (2.165,116) (2.170,115) (2.175,114) (2.180,113) (2.185,112) (2.190,111) (2.195,110) (2.200,109) (2.205,104) (2.208,107) (2.212,106) (2.218,105) (2.225,104) (2.232,102) (2.240,101) (2.248,99) (2.256,97) (2.264,95) (2.272,94) (2.280,92) (2.288,91) (2.293,86) (2.296,84) (2.300,84) (2.305,83) (2.310,82) (2.315,81) (2.320,80) (2.323,73) (2.327,72) (2.332,71) (2.337,70) (2.342,69) (2.347,68) (2.352,63) (2.357,62) (2.362,61) (2.367,60) (2.372,59) (2.377,58) (2.382,53) (2.386,52) (2.390,51) (2.395,50) (2.400,49) (2.405,47) (2.410,46) (2.415,44) (2.420,43) (2.425,41) (2.430,40) (2.435,38) (2.440,37) (2.445,34) (2.450,33) (2.455,31) (2.460,29) (2.465,27) (2.470,24) (2.474,20) (2.477,13)};
\end{axis}
\end{tikzpicture}
\end{document}
